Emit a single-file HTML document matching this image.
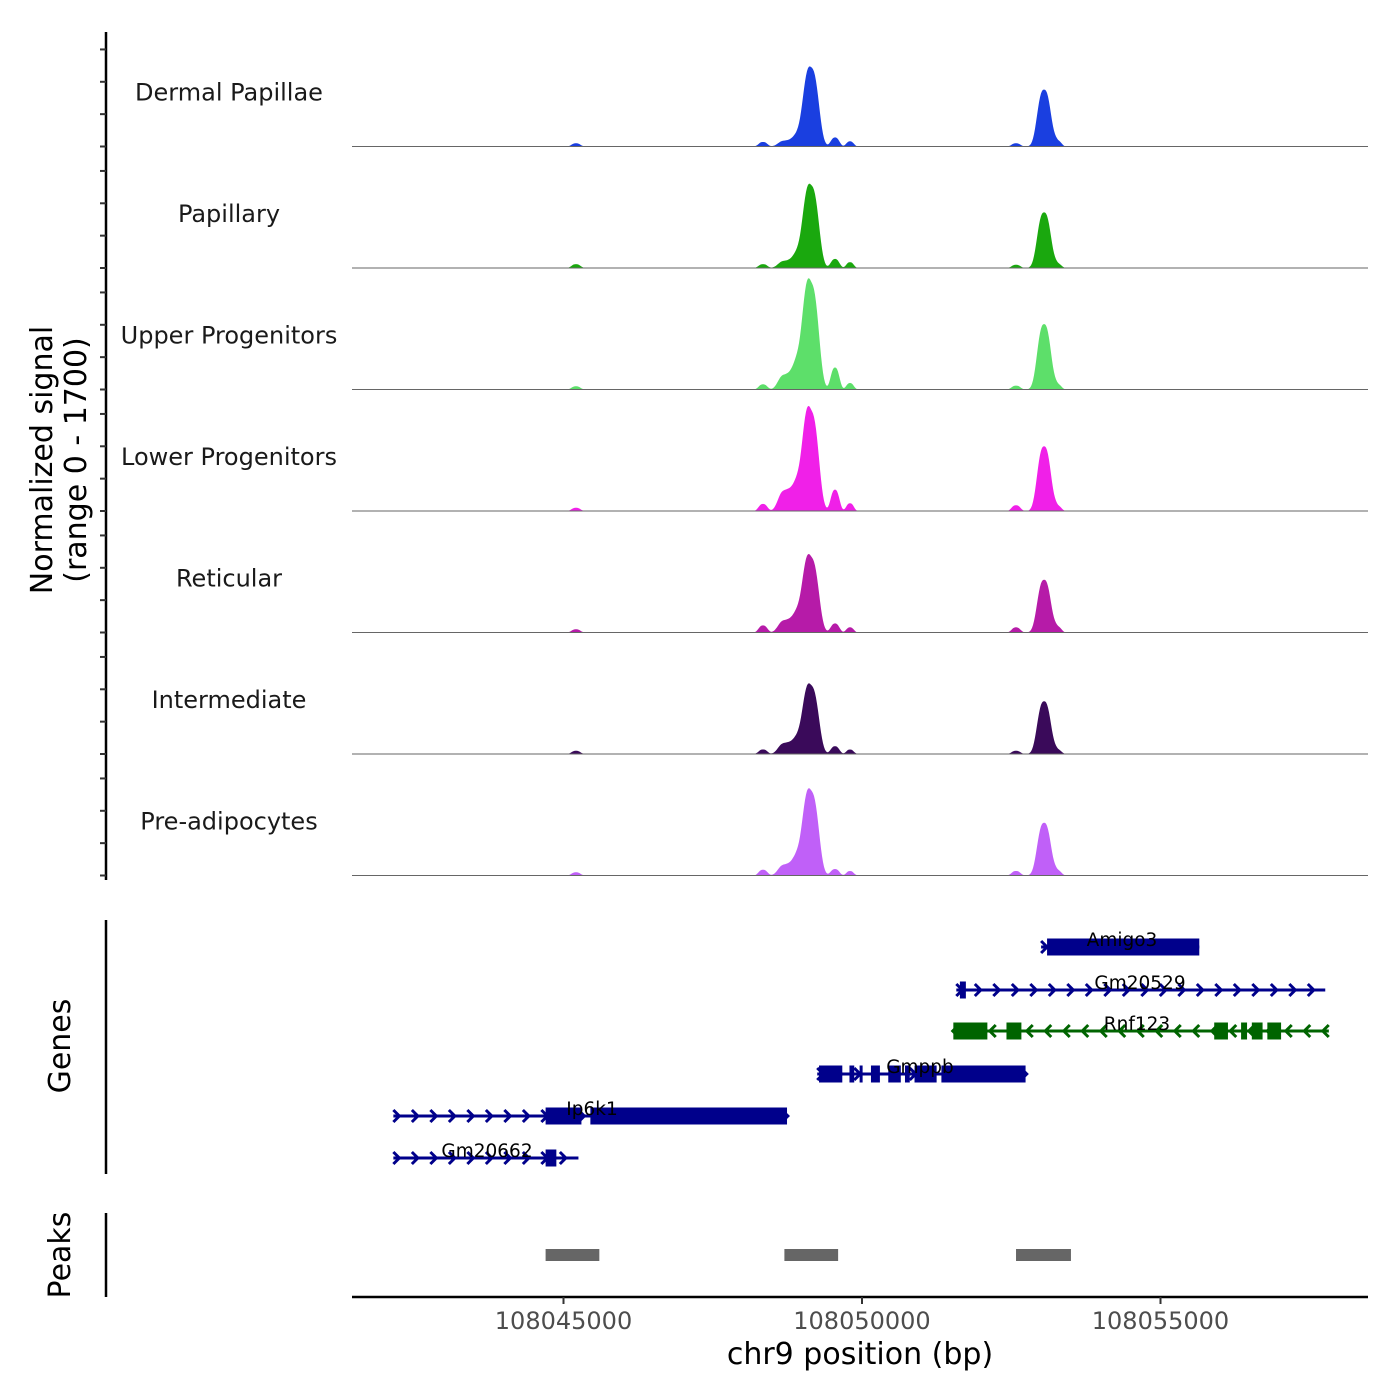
<!DOCTYPE html>
<html><head><meta charset="utf-8"><style>
html,body{margin:0;padding:0;background:#fff;}
svg{display:block;font-family:"DejaVu Sans","Liberation Sans",sans-serif;}
</style></head><body>
<svg id="chart" width="1400" height="1400" viewBox="0 0 1400 1400" xmlns="http://www.w3.org/2000/svg">
<rect width="1400" height="1400" fill="#fff"/>
<g id="tracks"></g>
<g id="yaxis"></g>
<text transform="translate(52,460) rotate(-90)" text-anchor="middle" font-size="30" fill="#000">Normalized signal</text>
<text transform="translate(86,460) rotate(-90)" text-anchor="middle" font-size="30" fill="#000">(range 0 - 1700)</text>
<line x1="106" y1="920" x2="106" y2="1174" stroke="#000" stroke-width="2.5"/>
<text transform="translate(70,1046) rotate(-90)" text-anchor="middle" font-size="30">Genes</text>
<g id="genes"></g>
<line x1="106" y1="1213" x2="106" y2="1297" stroke="#000" stroke-width="2.5"/>
<text transform="translate(70,1255) rotate(-90)" text-anchor="middle" font-size="30">Peaks</text>
<g id="peaks"></g>
<g id="xaxis"></g>
<text x="860" y="1364" text-anchor="middle" font-size="30">chr9 position (bp)</text>
</svg>
<script>
const NS="http://www.w3.org/2000/svg";
const trackNames=["Dermal Papillae","Papillary","Upper Progenitors","Lower Progenitors","Reticular","Intermediate","Pre-adipocytes"];
const trackColors=["#1a3fe0","#1aa80e","#5ddf6a","#f020e8","#b61ba8","#3a0a5a","#c060f8"];
const peakCenters=[108045209,108048342,108048710,108048961,108049150,108049548,108049799,108052580,108053050,108053283];
const peakSigmas=[70,70,110,110,120,70,60,70,110,60];
const heightsT1=[50,70,90,200,1200,140,80,50,880,80];
const heightsT2=[60,60,110,260,1250,140,90,50,860,60];
const heightsT3=[50,80,230,500,1600,340,100,60,1010,70];
const heightsT4=[50,110,320,500,1500,330,120,90,1000,70];
const heightsT5=[50,110,190,350,1130,140,80,80,815,80];
const heightsT6=[50,70,170,280,1030,120,70,50,815,60];
const heightsT7=[50,90,170,350,1270,100,70,70,815,70];
const trackHeights=[heightsT1,heightsT2,heightsT3,heightsT4,heightsT5,heightsT6,heightsT7];
const xTicks=[108045000,108050000,108055000];
const yTicks=[0,500,1000,1500];
const peakStarts=[108044700,108048700,108052580];
const peakEnds=[108045600,108049600,108053500];
const geneNames=["Amigo3","Gm20529","Rnf123","Gmppb","Ip6k1","Gm20662"];
const geneStrands=["+","+","-","+","+","+"];
const geneStarts=[108053000,108051580,108051520,108049250,108042150,108042150];
const geneEnds=[108055650,108057760,108057820,108052740,108048744,108045250];
const geneExons=[
 [[108053100,108055650]],
 [[108051640,108051740]],
 [[108051530,108052100],[108052420,108052670],[108055900,108056130],[108056350,108056450],[108056530,108056710],[108056790,108057020]],
 [[108049280,108049670],[108049790,108049870],[108049960,108049990],[108050150,108050300],[108050440,108050650],[108050720,108050800],[108050880,108051250],[108051330,108052740]],
 [[108044700,108045300],[108045450,108048744]],
 [[108044700,108044880]]];
const X0=352,X1=1368,BP0=108041457,BP1=108058476;
function x(bp){return X0+(bp-BP0)/(BP1-BP0)*(X1-X0);}
const trackTop=25,trackH=121.5,yMax=1700,yPix=110;
function el(tag,attrs,parent){const e=document.createElementNS(NS,tag);for(const k in attrs)e.setAttribute(k,attrs[k]);parent.appendChild(e);return e;}
const tracks=document.getElementById('tracks');
for(let t=0;t<trackNames.length;t++){
 const base=trackTop+trackH*(t+1);
 const g=el('g',{},tracks);
 
 
 let pts=[[X0,base]];
 for(let px=X0;px<=X1;px+=1){
  const bp=BP0+(px-X0)/(X1-X0)*(BP1-BP0);
  let v=0;
  for(let i=0;i<peakCenters.length;i++){const d=Math.abs(bp-peakCenters[i])/peakSigmas[i];v+=trackHeights[t][i]*Math.exp(-0.5*Math.pow(d,2.6));}
  pts.push([px,base-v/yMax*yPix]);
 }
 pts.push([X1,base]);
 const area=el('polygon',{points:pts.map(p=>p[0].toFixed(1)+','+p[1].toFixed(1)).join(' '),fill:trackColors[t]},g);
 
 
 const bl=el('line',{x1:X0,x2:X1,y1:base,y2:base,stroke:'#666','stroke-width':1},g);
 
 
 const lab=el('text',{x:229,y:base-46,'text-anchor':'middle','font-size':24,fill:'#1a1a1a'},g);
 
 
 lab.textContent=trackNames[t];
}
const yaxis=document.getElementById('yaxis');
el('line',{x1:106,x2:106,y1:32,y2:880,stroke:'#000','stroke-width':2.5},yaxis);
for(let t=0;t<trackNames.length;t++){
 const base=trackTop+trackH*(t+1);
 for(const v of yTicks){
  const tk=el('line',{x1:100,x2:106,y1:base-v/yMax*yPix,y2:base-v/yMax*yPix,stroke:'#333','stroke-width':2},yaxis);
  
  
 }
}
const genes=document.getElementById('genes');
const rowY=[947,990,1031,1074,1116,1158];
const labelX=[1122,1140,1137,920,592,487];
for(let i=0;i<geneNames.length;i++){
 const col=geneNames[i]==="Rnf123"?"#006400":"#00008b";
 const g=el('g',{},genes);
 
 
 const y=rowY[i],xs=x(geneStarts[i]),xe=x(geneEnds[i]);
 el('line',{x1:xs,x2:xe,y1:y,y2:y,stroke:col,'stroke-width':3},g);
 const dir=geneStrands[i]==='+'?1:-1;
 for(let cx=xs+3;cx<=xe+1;cx+=18.5){
  el('polyline',{points:`${cx-3*dir},${y-6} ${cx+3*dir},${y} ${cx-3*dir},${y+6}`,fill:'none',stroke:col,'stroke-width':3},g);
 }
 for(const ex of geneExons[i]){
  const r=el('rect',{x:x(ex[0]),y:y-8.5,width:Math.max(3,x(ex[1])-x(ex[0])),height:17,fill:col},g);
  
  
 }
 const lab=el('text',{x:labelX[i],y:y-1,'text-anchor':'middle','font-size':18.5,fill:'#000'},g);
 
 
 lab.textContent=geneNames[i];
}
const peaks=document.getElementById('peaks');
for(let i=0;i<peakStarts.length;i++){
 const r=el('rect',{x:x(peakStarts[i]),y:1249,width:x(peakEnds[i])-x(peakStarts[i]),height:12,fill:'#666'},peaks);
 
 
}
const xa=document.getElementById('xaxis');
el('line',{x1:X0,x2:X1,y1:1297,y2:1297,stroke:'#000','stroke-width':2.5},xa);
for(const v of xTicks){
 el('line',{x1:x(v),x2:x(v),y1:1297,y2:1304,stroke:'#333','stroke-width':2},xa);
 const t=el('text',{x:x(v),y:1329,'text-anchor':'middle','font-size':24,fill:'#4d4d4d'},xa);
 
 
 t.textContent=v;
}
</script>
</body></html>
